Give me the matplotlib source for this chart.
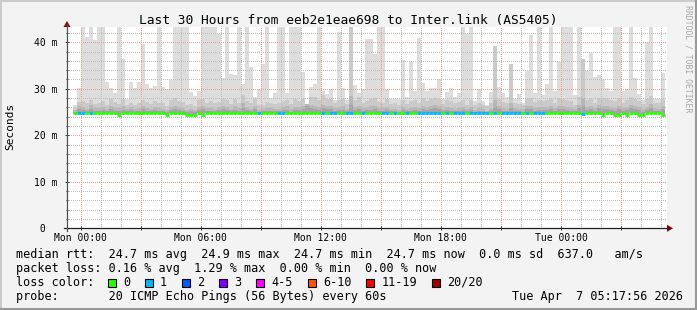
import matplotlib
matplotlib.use("Agg")
import matplotlib.pyplot as plt
import matplotlib.dates as mdates
from matplotlib.lines import Line2D
from matplotlib.patches import Rectangle, Polygon
from matplotlib.ticker import FixedLocator, MultipleLocator, FuncFormatter
import numpy as np
import pandas as pd

W, H = 697, 310

title = "Last 30 Hours from eeb2e1eae698 to Inter.link (AS5405)"
window_start = "2026-04-05 23:18:56"
window_end = "2026-04-07 05:17:56"
first_sample = "2026-04-05 23:37"
sample_step = "12min"

# top of the smoke bands (seconds * 1000 -> "m"), one value per 12 min
smoke_max = [
    26.6, 30.2, 44, 41.1, 44, 40.5, 44, 44, 31.5, 30.2,
    29.0, 44, 36.4, 27.7, 31.5, 30.2, 31.5, 39.6, 31.1, 30.2,
    30.7, 44, 30.4, 30.0, 31.8, 44, 44, 44, 44, 29.3,
    28.4, 29.5, 44, 44, 44, 44, 41.8, 32.4, 44, 33.1,
    33.0, 44, 31.1, 44, 34.6, 28.3, 29.9, 35.4, 44, 28.1,
    29.1, 44, 44, 29.1, 44, 44, 44, 33.7, 26.7, 30.4,
    31.0, 44, 29.6, 28.8, 29.9, 27.6, 42.2, 30.2, 27.6, 44,
    30.9, 29.1, 29.9, 40.7, 40.7, 37.5, 44, 44, 29.9, 27.8,
    28.0, 27.7, 36.2, 28.3, 36.0, 29.5, 40.9, 31.3, 29.5, 30.2,
    30.2, 32.2, 27.7, 29.3, 30.2, 28.3, 29.1, 44, 41.8, 44,
    27.3, 29.9, 27.3, 26.6, 29.3, 39.1, 30.4, 29.1, 28.3, 35.3,
    27.7, 28.8, 27.0, 33.8, 41.6, 29.0, 44, 28.6, 31.0, 44,
    29.5, 35.7, 44, 44, 44, 28.6, 44, 36.4, 33.8, 37.8,
    32.6, 32.9, 32.2, 30.2, 29.5, 44, 44, 29.5, 29.9, 44,
    32.3, 28.8, 27.6, 40.1, 44, 27.7, 27.7, 33.5,
]
smoke_p2 = [
    25.9, 27.2, 27.4, 27.0, 27.6, 26.8, 27.0, 27.4, 26.6, 27.8,
    27.2, 26.8, 27.9, 26.5, 27.0, 26.6, 26.9, 27.5, 27.1, 26.7,
    27.4, 26.9, 27.0, 26.4, 27.6, 28.0, 27.3, 27.1, 26.6, 26.8,
    26.3, 27.5, 27.7, 27.0, 27.3, 26.9, 27.2, 27.9, 27.5, 26.8,
    27.8, 27.0, 28.6, 27.3, 27.0, 27.9, 26.6, 26.5, 27.2, 27.0,
    26.7, 26.9, 27.4, 27.6, 26.8, 27.7, 27.3, 27.8, 26.7, 28.3,
    28.2, 27.5, 28.6, 27.8, 28.0, 27.0, 27.6, 27.9, 26.8, 44,
    27.5, 28.2, 27.0, 27.4, 27.7, 28.0, 27.2, 27.0, 27.7, 26.7,
    26.9, 26.6, 27.6, 26.8, 27.3, 27.5, 27.0, 28.1, 27.4, 27.9,
    28.1, 27.8, 26.8, 27.5, 27.3, 26.9, 27.1, 27.5, 26.6, 27.6,
    26.5, 27.0, 26.6, 26.2, 26.9, 39.1, 27.8, 27.2, 26.9, 35.3,
    27.0, 26.8, 26.5, 27.8, 28.0, 27.2, 27.5, 27.4, 27.6, 27.9,
    27.0, 28.1, 27.7, 27.5, 27.3, 26.6, 28.2, 36.4, 27.6, 27.9,
    27.0, 28.1, 28.0, 27.8, 27.6, 27.3, 28.1, 27.0, 27.5, 28.2,
    27.8, 27.4, 26.8, 27.7, 28.4, 27.0, 26.9, 27.8,
]
smoke_p3 = [
    25.4, 26.3, 26.0, 25.7, 26.5, 25.8, 25.9, 26.1, 25.6, 26.4,
    25.8, 25.9, 26.2, 25.6, 26.0, 25.7, 25.9, 26.2, 25.8, 25.6,
    26.1, 25.8, 25.7, 25.5, 26.0, 26.4, 26.0, 25.9, 25.5, 25.7,
    25.4, 26.0, 26.2, 25.8, 25.9, 25.7, 26.0, 26.3, 26.1, 25.6,
    26.2, 25.8, 26.9, 26.0, 25.7, 26.3, 25.5, 25.6, 25.9, 25.8,
    25.6, 25.7, 26.0, 26.2, 25.6, 26.1, 26.0, 26.3, 26.7, 26.5,
    26.4, 26.1, 26.6, 26.2, 26.3, 25.9, 26.0, 26.2, 25.7, 28.5,
    26.0, 26.4, 25.8, 26.1, 26.2, 26.4, 25.9, 25.8, 26.1, 25.6,
    25.7, 25.5, 26.0, 25.7, 25.9, 26.0, 25.8, 26.4, 26.0, 26.3,
    26.5, 26.2, 25.7, 26.0, 25.9, 25.7, 25.8, 26.0, 25.6, 26.1,
    25.5, 25.8, 25.6, 25.3, 25.7, 27.5, 26.2, 25.9, 25.7, 27.0,
    25.8, 25.7, 25.6, 26.2, 26.4, 25.9, 26.0, 26.0, 26.1, 26.3,
    25.8, 26.4, 26.2, 26.1, 25.9, 25.6, 26.5, 28.0, 26.1, 26.3,
    25.8, 26.5, 26.4, 26.2, 26.0, 25.9, 26.4, 25.8, 26.0, 26.5,
    26.2, 26.0, 25.6, 26.1, 26.7, 25.8, 25.7, 26.2,
]
smoke_p4 = [
    25.1, 25.6, 25.4, 25.2, 25.7, 25.3, 25.3, 25.5, 25.2, 25.6,
    25.3, 25.3, 25.5, 25.2, 25.4, 25.2, 25.3, 25.6, 25.3, 25.2,
    25.5, 25.3, 25.2, 25.1, 25.4, 25.7, 25.4, 25.3, 25.1, 25.2,
    25.0, 25.4, 25.6, 25.3, 25.3, 25.2, 25.4, 25.6, 25.5, 25.2,
    25.5, 25.3, 25.9, 25.4, 25.2, 25.6, 25.1, 25.2, 25.3, 25.3,
    25.2, 25.2, 25.4, 25.5, 25.1, 25.5, 25.4, 25.6, 26.2, 25.8,
    25.7, 25.5, 25.9, 25.6, 25.6, 25.3, 25.4, 25.5, 25.2, 26.5,
    25.4, 25.7, 25.3, 25.5, 25.5, 25.7, 25.3, 25.3, 25.5, 25.2,
    25.2, 25.1, 25.4, 25.2, 25.3, 25.4, 25.3, 25.7, 25.4, 25.6,
    25.8, 25.6, 25.2, 25.4, 25.3, 25.2, 25.3, 25.4, 25.2, 25.5,
    25.1, 25.3, 25.2, 25.0, 25.2, 26.0, 25.6, 25.3, 25.2, 25.9,
    25.3, 25.2, 25.1, 25.6, 25.7, 25.3, 25.4, 25.4, 25.5, 25.6,
    25.3, 25.7, 25.6, 25.5, 25.3, 25.2, 25.8, 26.2, 25.5, 25.6,
    25.3, 25.8, 25.7, 25.6, 25.4, 25.3, 25.7, 25.3, 25.4, 25.8,
    25.6, 25.4, 25.1, 25.5, 25.9, 25.3, 25.2, 25.6,
]
median_rtt = [
    24.75, 24.75, 24.75, 24.75, 24.75, 24.75, 24.75, 24.75, 24.75, 24.75,
    24.75, 24.45, 24.75, 24.75, 24.75, 24.75, 24.75, 24.75, 24.75, 24.75,
    24.75, 24.75, 24.75, 24.45, 24.75, 24.75, 24.75, 24.75, 24.45, 24.45,
    24.45, 24.75, 24.45, 24.75, 24.75, 24.75, 24.75, 24.75, 24.75, 24.75,
    24.75, 24.75, 24.75, 24.75, 24.75, 24.75, 24.75, 24.75, 24.75, 24.75,
    24.75, 24.75, 24.75, 24.75, 24.75, 24.75, 24.75, 24.75, 24.75, 24.75,
    24.75, 24.75, 24.75, 24.75, 24.75, 24.75, 24.75, 24.75, 24.75, 24.75,
    24.75, 24.75, 24.75, 24.75, 24.75, 24.75, 24.75, 24.75, 24.75, 24.75,
    24.75, 24.75, 24.75, 24.75, 24.75, 24.75, 24.75, 24.75, 24.75, 24.75,
    24.75, 24.75, 24.75, 24.75, 24.75, 24.75, 24.75, 24.75, 24.75, 24.75,
    24.75, 24.75, 24.75, 24.75, 24.75, 24.75, 24.75, 24.75, 24.75, 24.75,
    24.75, 24.75, 24.75, 24.75, 24.75, 24.75, 24.75, 24.75, 24.75, 24.75,
    24.75, 24.75, 24.75, 24.75, 24.75, 24.75, 24.75, 24.50, 24.75, 24.75,
    24.75, 24.75, 24.45, 24.75, 24.75, 24.45, 24.45, 24.75, 24.45, 24.75,
    24.75, 24.45, 24.45, 24.75, 24.75, 24.75, 24.75, 24.45,
]
# lost pings out of 20 per sample
loss_count = [
    0, 1, 1, 0, 1, 0, 0, 0, 0, 0,
    0, 0, 0, 0, 0, 0, 0, 0, 0, 0,
    0, 0, 0, 0, 0, 0, 0, 0, 0, 0,
    0, 0, 0, 0, 0, 0, 0, 0, 0, 0,
    0, 0, 0, 0, 0, 0, 1, 0, 0, 0,
    0, 1, 1, 0, 0, 0, 0, 0, 0, 0,
    0, 0, 1, 0, 1, 1, 0, 0, 1, 1,
    0, 0, 1, 0, 0, 0, 0, 1, 1, 0,
    1, 0, 0, 1, 0, 0, 1, 1, 1, 1,
    1, 1, 0, 1, 0, 1, 1, 1, 0, 1,
    1, 1, 1, 1, 0, 1, 0, 1, 1, 1,
    1, 1, 0, 1, 0, 1, 1, 1, 0, 0,
    0, 0, 0, 0, 0, 0, 0, 1, 0, 0,
    0, 0, 0, 0, 0, 0, 0, 0, 0, 0,
    0, 0, 0, 0, 0, 0, 0, 0,
]

loss_labels = ["0", "1", "2", "3", "4-5", "6-10", "11-19", "20/20"]
loss_colors = ["#26ff00", "#00b8ff", "#0059ff", "#7e00ff",
               "#ff00ff", "#ff5500", "#ff0000", "#a10000"]
smoke_colors = ["#dddddd", "#cacaca", "#b7b7b7", "#a4a4a4"]

y_ticks = [0, 10, 20, 30, 40]
y_labels = [" 0", "10 m", "20 m", "30 m", "40 m"]

legend_lines = [
    "median rtt:  24.7 ms avg  24.9 ms max  24.7 ms min  24.7 ms now  0.0 ms sd  637.0   am/s",
    "packet loss: 0.16 % avg  1.29 % max  0.00 % min  0.00 % now",
    "loss color:",
    "probe:       20 ICMP Echo Pings (56 Bytes) every 60s",
]
stamp = "Tue Apr  7 05:17:56 2026"

MONO = "DejaVu Sans Mono"
plt.rcParams["font.family"] = MONO


def fx(x):
    return x / W


def fy(y):
    return 1 - y / H


def loss_index(n):
    if n <= 3:
        return n
    if n <= 5:
        return 4
    if n <= 10:
        return 5
    if n < 20:
        return 6
    return 7


fig = plt.figure(figsize=(W / 100, H / 100), dpi=100, facecolor="#f3f3f3")

# 3D-ish frame like rrdtool
fig.add_artist(Line2D([0, 1], [fy(0.5), fy(0.5)], color="#cbcbcb", lw=1.5))
fig.add_artist(Line2D([fx(0.5), fx(0.5)], [0, 1], color="#cbcbcb", lw=1.5))
fig.add_artist(Line2D([0, 1], [fy(309), fy(309)], color="#999999", lw=1.5))
fig.add_artist(Line2D([fx(696), fx(696)], [0, 1], color="#999999", lw=1.5))

ax_l, ax_r, ax_t, ax_b = 67, 667, 27, 228.3
ax = fig.add_axes([fx(ax_l), fy(ax_b), fx(ax_r - ax_l), (ax_b - ax_t) / H])
ax.set_facecolor("white")

times = pd.date_range(first_sample, periods=len(smoke_max), freq=sample_step)
t = mdates.date2num(times.to_pydatetime())
dt = mdates.date2num(times[1].to_pydatetime()) - t[0]
med = np.array(median_rtt)

for top, col in zip([smoke_max, smoke_p2, smoke_p3, smoke_p4], smoke_colors):
    ax.bar(t, np.array(top) - med, bottom=med, width=dt, align="edge",
           color=col, linewidth=0, zorder=1)

seg_colors = [loss_colors[loss_index(n)] for n in loss_count]
ax.hlines(med, t, t + dt, colors=seg_colors, linewidth=2.0, zorder=4,
          capstyle="butt")

ax.set_xlim(mdates.datestr2num(window_start), mdates.datestr2num(window_end))
ax.set_ylim(0, 43.29)

# grid: minor dotted grey, major dotted red, drawn over the smoke
dots = (0, (1, 2))
ax.xaxis.set_major_locator(mdates.HourLocator(byhour=range(0, 24, 3)))
ax.xaxis.set_minor_locator(mdates.HourLocator())
ax.xaxis.set_major_formatter(FuncFormatter(
    lambda v, p: mdates.num2date(v).strftime("%a %H:%M")
    if mdates.num2date(v).hour % 6 == 0 else ""))
ax.yaxis.set_major_locator(FixedLocator(y_ticks))
ax.yaxis.set_minor_locator(MultipleLocator(2))
ax.set_yticklabels(y_labels)

ax.grid(which="minor", color="#bdbdbd", lw=0.72, linestyle=dots, zorder=3,
        antialiased=False)
ax.grid(which="major", color="#f29a9a", lw=0.72, linestyle=dots, zorder=3,
        antialiased=False)
ax.set_axisbelow(False)

for s in ax.spines.values():
    s.set_visible(False)

ax.tick_params(axis="x", which="major", length=3, direction="inout",
               width=0.72, color="#404040", pad=2, labelsize=7)
ax.tick_params(axis="x", which="minor", length=0)
ax.tick_params(axis="y", which="major", length=3, direction="inout",
               width=0.72, color="#404040", pad=22, labelsize=7)
ax.tick_params(axis="y", which="minor", length=2, direction="inout",
               width=0.72, color="#404040")
for lab in ax.get_yticklabels():
    lab.set_horizontalalignment("left")

# axes lines with arrows
fig.add_artist(Line2D([fx(64), fx(668)], [fy(ax_b), fy(ax_b)], color="#202020", lw=0.9))
fig.add_artist(Line2D([fx(ax_l), fx(ax_l)], [fy(231), fy(24)], color="#505050", lw=0.9))
fig.add_artist(Polygon([[fx(667), fy(ax_b - 3.5)], [fx(667), fy(ax_b + 3.5)],
                        [fx(673), fy(ax_b)]], closed=True, color="#8b0000", lw=0))
fig.add_artist(Polygon([[fx(ax_l - 3.5), fy(27)], [fx(ax_l + 3.5), fy(27)],
                        [fx(ax_l), fy(21)]], closed=True, color="#8b0000", lw=0))

fig.text(fx(348), fy(24), title, ha="center", va="baseline", fontsize=9.3)
fig.text(fx(10), fy(126.5), "Seconds", rotation=90, ha="center", va="center",
         fontsize=8)
fig.text(fx(688), fy(59), "RRDTOOL / TOBI OETIKER", rotation=270, ha="center",
         va="center", fontsize=5.9, color="#a8a8a8")

baselines = [258.3, 272, 285.7, 299.7]
for txt, yb in zip(legend_lines, baselines):
    fig.text(fx(16), fy(yb), txt, ha="left", va="baseline", fontsize=8.5)
fig.text(fx(683), fy(baselines[3]), stamp, ha="right", va="baseline", fontsize=8.5)

char_w = 7.12
bx = 108
for lab, col in zip(loss_labels, loss_colors):
    fig.add_artist(Rectangle((fx(bx), fy(286.7)), 8 / W, 8 / H, facecolor=col,
                             edgecolor="black", lw=0.8))
    fig.text(fx(bx + 15), fy(baselines[2]), lab, ha="left", va="baseline", fontsize=8.5)
    bx += 15 + len(lab) * char_w + 15

fig.savefig("out.png", dpi=100, facecolor=fig.get_facecolor())
